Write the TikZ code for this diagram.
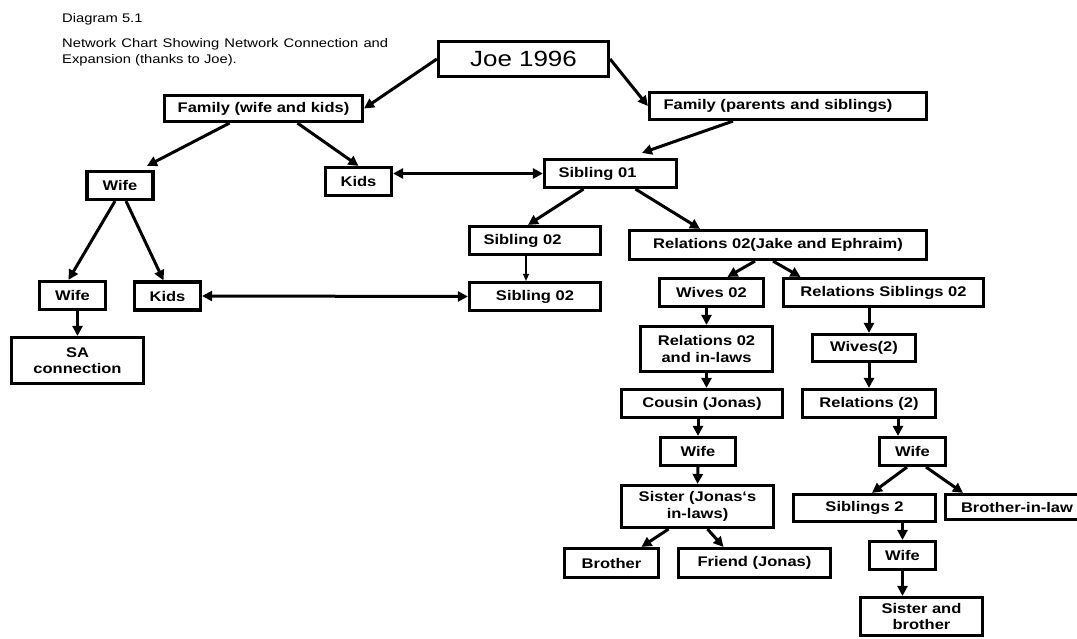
\documentclass[tikz,border=0pt]{standalone}
\usepackage{fontspec}
\setmainfont{Liberation Sans}[FakeStretch=1.18]
\usetikzlibrary{arrows.meta,positioning}

\begin{document}
\begin{tikzpicture}[x=1pt,y=-1pt]
\tikzstyle{bx}=[draw, line width=3.2pt, inner sep=2pt, minimum height=28pt, font=\fontsize{14}{16.5}\selectfont\bfseries, align=center]
\tikzstyle{sml}=[bx, minimum width=66pt]
\tikzstyle{lft}=[inner xsep=14pt, align=left]
\tikzstyle{arr}=[line width=3pt, -{Triangle[length=10pt,width=10pt]}]
\tikzstyle{dbl}=[line width=3pt, {Triangle[length=10pt,width=10pt]}-{Triangle[length=10pt,width=10pt]}]
\tikzstyle{thn}=[line width=1.2pt, -{Triangle[length=7pt,width=6pt]}]

\path[use as bounding box, fill=white] (0,0) rectangle (1077,639);

% caption
\node[anchor=base west, inner sep=0pt, font=\fontsize{12.5}{15}\selectfont] (cap) at (62,23) {Diagram 5.1};
\node[anchor=north west, inner sep=0pt, text width=326pt, align=justify, font=\fontsize{12.5}{16}\selectfont] (ttl) at (62,38) {Network Chart Showing Network Connection and Expansion (thanks to Joe).};

% boxes
\node[bx, minimum width=170pt, minimum height=35pt, font=\fontsize{22}{24}\selectfont] (joe) at (523.5,59) {Joe 1996};
\node[bx, minimum width=198pt, minimum height=26pt] (fwk) at (263.5,108.5) {Family (wife and kids)};
\node[bx, lft, text width=249pt, minimum height=27pt] (fps) at (788,106) {Family (parents and siblings)};
\node[sml] (wf1) at (120,185.5) {Wife};
\node[sml] (kd1) at (358.5,181.5) {Kids};
\node[bx, lft, text width=104pt] (s01) at (610.5,173.5) {Sibling 01};
\node[bx, lft, text width=103pt] (s02a) at (535,240.5) {Sibling 02};
\node[bx, minimum width=297pt, minimum height=29pt] (r02) at (778,245) {Relations 02(Jake and Ephraim)};
\node[sml] (wf2) at (72.5,295.5) {Wife};
\node[sml] (kd2) at (167.5,296) {Kids};
\node[bx, minimum width=131pt] (s02b) at (535,296.5) {Sibling 02};
\node[bx, minimum width=104pt] (w02) at (711.5,292.5) {Wives 02};
\node[bx, minimum width=200pt] (rs02) at (883.5,292.5) {Relations Siblings 02};
\node[bx, minimum width=132pt, minimum height=46pt] (sa) at (77.5,360.5) {SA\\connection};
\node[bx, minimum width=132pt, minimum height=45pt] (ril) at (706.5,349) {Relations 02\\and in-laws};
\node[bx, minimum width=103pt, minimum height=27pt] (wv2) at (864,348) {Wives(2)};
\node[bx, minimum width=161pt] (cj) at (702,403.5) {Cousin (Jonas)};
\node[bx, minimum width=133pt] (rl2) at (869,403.5) {Relations (2)};
\node[bx, minimum width=75pt] (wf3) at (698,451.5) {Wife};
\node[sml] (wf4) at (912.5,451.5) {Wife};
\node[bx, minimum width=152pt, minimum height=42pt] (sjl) at (697.5,506.5) {Sister (Jonas‘s\\in-laws)};
\node[bx, minimum width=142pt, minimum height=27pt] (sb2) at (864.5,508) {Siblings 2};
\node[bx, minimum width=143pt, minimum height=25pt] (bil) at (1017,507) {Brother-in-law};
\node[bx, minimum width=94pt, minimum height=29pt] (br) at (611.5,563) {Brother};
\node[bx, minimum width=152pt, minimum height=29pt] (fj) at (754.5,563) {Friend (Jonas)};
\node[sml] (wf5) at (902.5,555.5) {Wife};
\node[bx, minimum width=122pt, minimum height=38pt] (sab) at (921.5,616.5) {Sister and\\brother};

% links
\draw[arr] (joe.west) -- (fwk.east);
\draw[arr] (joe.east) -- (fps.west);
\draw[arr] ([xshift=-55pt]fps.south) -- ([xshift=31.5pt,yshift=5pt]s01.north);
\draw[arr] ([xshift=-34pt]fwk.south) -- ([xshift=27pt,yshift=4pt]wf1.north);
\draw[arr] ([xshift=34pt]fwk.south) -- (kd1.north);
\draw[dbl] (kd1.east |- s01.west) -- (s01.west);
\draw[arr] ([xshift=-5pt]wf1.south) -- ([xshift=-4pt]wf2.north);
\draw[arr] ([xshift=6pt]wf1.south) -- ([xshift=-4pt]kd2.north);
\draw[arr] (wf2.south -| sa.north) -- (sa.north);
\draw[dbl] (kd2.east) -- (s02b.west);
\draw[arr] ([xshift=-27pt]s01.south) -- ([xshift=-7pt]s02a.north);
\draw[arr] ([xshift=25pt]s01.south) -- ([xshift=-78pt]r02.north);
\draw[thn] ([xshift=-9pt]s02a.south) -- ([xshift=-9pt]s02b.north);
\draw[arr] ([xshift=-23pt]r02.south) -- ([xshift=16pt]w02.north);
\draw[arr] ([xshift=-5pt]r02.south) -- ([xshift=-83pt]rs02.north);
\draw[arr] (w02.south -| ril.north) -- (ril.north);
\draw[arr] (ril.south) -- (ril.south |- cj.north);
\draw[arr] (cj.south -| wf3.north) -- (wf3.north);
\draw[arr] (wf3.south) -- (sjl.north);
\draw[arr] ([xshift=-29pt]sjl.south) -- ([xshift=30pt]br.north);
\draw[arr] ([xshift=10pt]sjl.south) -- ([xshift=-31pt]fj.north);
\draw[arr] (rs02.south -| rl2.north) -- (rl2.north |- wv2.north);
\draw[arr] (wv2.south -| rl2.north) -- (rl2.north);
\draw[arr] ([xshift=29pt]rl2.south) -- ([xshift=-14.5pt]wf4.north);
\draw[arr] ([xshift=-5.5pt]wf4.south) -- ([xshift=7.5pt]sb2.north);
\draw[arr] ([xshift=13.5pt]wf4.south) -- ([xshift=-54pt]bil.north);
\draw[arr] (sb2.south -| wf5.north) -- (wf5.north);
\draw[arr] (wf5.south) -- (wf5.south |- sab.north);
\end{tikzpicture}
\end{document}
